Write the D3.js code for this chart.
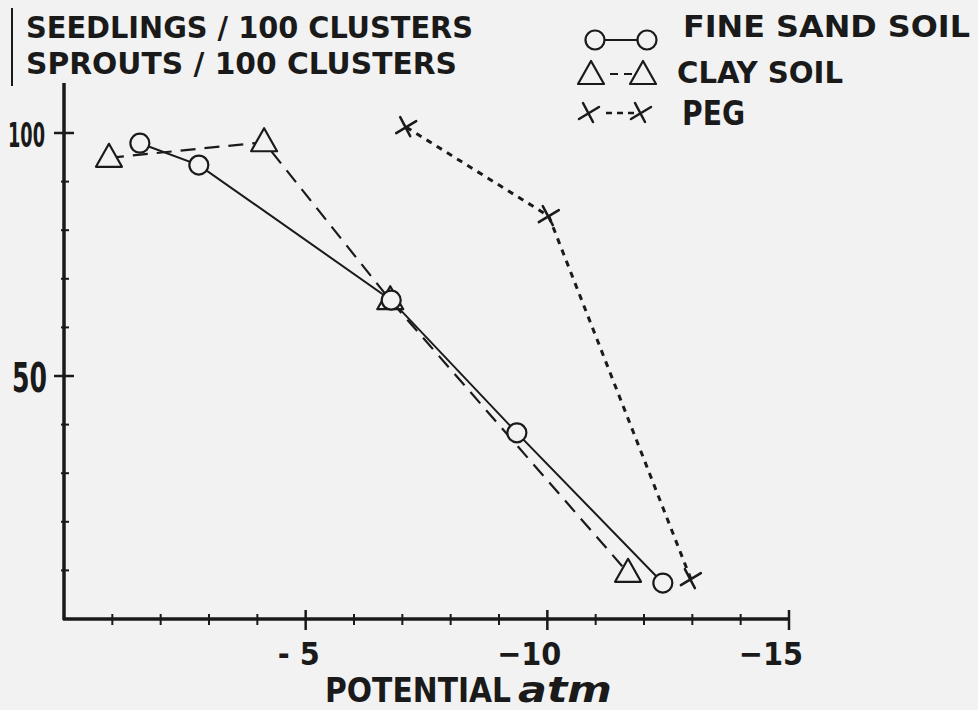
<!DOCTYPE html>
<html>
<head>
<meta charset="utf-8">
<script src="https://cdn.jsdelivr.net/npm/d3@7"></script>
<style>
  body { margin: 0; background: #f2f2f2; }
  svg { display: block; }
  text { font-family: "DejaVu Sans Condensed", "DejaVu Sans", sans-serif; font-weight: bold; fill: #1a1a1a; }
</style>
</head>
<body>
<svg></svg>
<script>
let width = 978, height = 710;

// data (x = potential in atm, y = count per 100 clusters)
let sandX = [-1.57, -2.79, -6.77, -9.37, -12.39];
let sandY = [97.9, 93.4, 65.6, 38.3, 7.4];

let clayX = [-0.93, -4.14, -6.75, -11.67];
let clayY = [94.9, 98.1, 65.6, 9.5];

let pegX = [-7.08, -10.03, -12.97];
let pegY = [101.2, 82.9, 8.2];

let xTicks = [-5, -10, -15];
let xTickLabels = ["- 5", "\u221210", "\u221215"];
let yTicks = [50, 100];
let yTickLabels = ["50", "100"];
let titleLines = ["SEEDLINGS / 100 CLUSTERS", "SPROUTS / 100 CLUSTERS"];
let legendNames = ["FINE SAND SOIL", "CLAY SOIL", "PEG"];

let ink = "#1a1a1a", paper = "#f2f2f2";

let svg = d3.select("svg")
    .attr("width", width)
    .attr("height", height);

svg.append("rect").attr("width", width).attr("height", height).attr("fill", paper);

let x = d3.scaleLinear().domain([0, -15]).range([64, 789]);
let y = d3.scaleLinear().domain([0, 100]).range([619, 133]);

// axes: minor ticks every unit / every 10, bigger ticks on the labelled values
let xAxisG = svg.append("g").attr("transform", "translate(0," + y(0) + ")");
xAxisG.append("line")
    .attr("x1", x(0) - 1).attr("x2", x(-15) + 1)
    .attr("stroke", ink).attr("stroke-width", 3.5);
xAxisG.selectAll(".minor")
    .data(d3.range(-1, -15, -1).filter(d => d % 5 != 0))
    .enter().append("line")
    .attr("x1", d => x(d)).attr("x2", d => x(d))
    .attr("y1", -5).attr("y2", 6)
    .attr("stroke", ink).attr("stroke-width", 2);
xAxisG.selectAll(".major")
    .data(xTicks)
    .enter().append("line")
    .attr("x1", d => x(d)).attr("x2", d => x(d))
    .attr("y1", -9).attr("y2", 11)
    .attr("stroke", ink).attr("stroke-width", 2.5);
xAxisG.selectAll(".lab")
    .data(xTicks)
    .enter().append("text")
    .attr("x", d => x(d) + 14)
    .attr("y", 46)
    .attr("text-anchor", "end")
    .style("font-size", "32px")
    .text((d, i) => xTickLabels[i]);

let yAxisG = svg.append("g").attr("transform", "translate(" + x(0) + ",0)");
yAxisG.append("line")
    .attr("y1", 83).attr("y2", y(0) + 1)
    .attr("stroke", ink).attr("stroke-width", 3.5);
yAxisG.selectAll(".minor")
    .data(d3.range(10, 100, 10).filter(d => d != 50))
    .enter().append("line")
    .attr("y1", d => y(d)).attr("y2", d => y(d))
    .attr("x1", -3).attr("x2", 5)
    .attr("stroke", ink).attr("stroke-width", 2);
yAxisG.selectAll(".major")
    .data(yTicks)
    .enter().append("line")
    .attr("y1", d => y(d)).attr("y2", d => y(d))
    .attr("x1", -10).attr("x2", 10)
    .attr("stroke", ink).attr("stroke-width", 2.5);
yAxisG.selectAll(".lab")
    .data(yTicks)
    .enter().append("text")
    .attr("x", (d, i) => i == 0 ? -52 : -56)
    .attr("y", (d, i) => y(d) + (i == 0 ? 16 : 14))
    .style("font-size", (d, i) => i == 0 ? "40px" : "33px")
    .attr("lengthAdjust", "spacingAndGlyphs")
    .attr("textLength", (d, i) => i == 0 ? 35 : 37)
    .text((d, i) => yTickLabels[i]);

// axis title
svg.append("text")
    .attr("x", 325).attr("y", 702)
    .style("font-size", "33px")
    .attr("lengthAdjust", "spacingAndGlyphs")
    .attr("textLength", 186)
    .text("POTENTIAL");
svg.append("text")
    .attr("x", 518).attr("y", 702)
    .style("font-size", "35px")
    .style("font-style", "italic")
    .attr("lengthAdjust", "spacingAndGlyphs")
    .attr("textLength", 94)
    .text("atm");

// y title with the bar on its left
svg.append("line")
    .attr("x1", 12).attr("x2", 12).attr("y1", 8).attr("y2", 86)
    .attr("stroke", ink).attr("stroke-width", 2);
svg.selectAll(".title")
    .data(titleLines)
    .enter().append("text")
    .attr("x", 26)
    .attr("y", (d, i) => 38 + i * 36)
    .style("font-size", "30px")
    .attr("lengthAdjust", "spacingAndGlyphs")
    .attr("textLength", (d, i) => i == 0 ? 447 : 431)
    .text(d => d);

// series
let line = d3.line().x(d => x(d[0])).y(d => y(d[1]));

let sand = sandX.map((v, i) => [v, sandY[i]]);
let clay = clayX.map((v, i) => [v, clayY[i]]);
let peg = pegX.map((v, i) => [v, pegY[i]]);

svg.append("path").datum(clay)
    .attr("d", line).attr("fill", "none")
    .attr("stroke", ink).attr("stroke-width", 2.2)
    .attr("stroke-dasharray", "15 9");
svg.append("path").datum(sand)
    .attr("d", line).attr("fill", "none")
    .attr("stroke", ink).attr("stroke-width", 2);
svg.append("path").datum(peg)
    .attr("d", line).attr("fill", "none")
    .attr("stroke", ink).attr("stroke-width", 3)
    .attr("stroke-dasharray", "6 6");

let triPath = "M0,-14 L13,9 L-13,9 Z";
let crossPath = "M-10,6 L10,-6 M-6,-10 L4,9";

function drawCircles(g, data) {
    g.selectAll("circle").data(data).enter().append("circle")
        .attr("cx", d => x(d[0])).attr("cy", d => y(d[1]))
        .attr("r", 9.5)
        .attr("fill", paper).attr("stroke", ink).attr("stroke-width", 2.2);
}
function drawTriangles(g, data) {
    g.selectAll("path").data(data).enter().append("path")
        .attr("d", triPath)
        .attr("transform", d => "translate(" + x(d[0]) + "," + y(d[1]) + ")")
        .attr("fill", paper).attr("stroke", ink).attr("stroke-width", 2.2)
        .attr("stroke-linejoin", "round");
}
function drawCrosses(g, data) {
    g.selectAll("path").data(data).enter().append("path")
        .attr("d", crossPath)
        .attr("transform", d => "translate(" + x(d[0]) + "," + y(d[1]) + ")")
        .attr("fill", "none").attr("stroke", ink).attr("stroke-width", 2.5)
        .attr("stroke-linecap", "round");
}

drawTriangles(svg.append("g"), clay);
drawCircles(svg.append("g"), sand);
drawCrosses(svg.append("g"), peg);

// legend
let legend = svg.append("g");
let lx1 = 595, lx2 = 647;
let ly = [40, 74, 113];

legend.append("line").attr("x1", lx1).attr("x2", lx2).attr("y1", ly[0]).attr("y2", ly[0])
    .attr("stroke", ink).attr("stroke-width", 2);
legend.append("line").attr("x1", lx1).attr("x2", lx2).attr("y1", ly[1]).attr("y2", ly[1])
    .attr("stroke", ink).attr("stroke-width", 2).attr("stroke-dasharray", "0 15 8 6 8 100");
legend.append("line").attr("x1", lx1 + 4).attr("x2", lx2 - 4).attr("y1", ly[2]).attr("y2", ly[2])
    .attr("stroke", ink).attr("stroke-width", 2.5).attr("stroke-dasharray", "0 7 6 5 6 5 6 100");

[lx1, lx2].forEach(cx => {
    legend.append("circle").attr("cx", cx).attr("cy", ly[0]).attr("r", 9.5)
        .attr("fill", paper).attr("stroke", ink).attr("stroke-width", 2.2);
    legend.append("path").attr("d", triPath)
        .attr("transform", "translate(" + (cx - 4) + "," + (ly[1] + 1) + ")")
        .attr("fill", "none").attr("stroke", ink).attr("stroke-width", 2.2)
        .attr("stroke-linejoin", "round");
    legend.append("path").attr("d", crossPath)
        .attr("transform", "translate(" + (cx - 6) + "," + ly[2] + ")")
        .attr("fill", "none").attr("stroke", ink).attr("stroke-width", 2.5)
        .attr("stroke-linecap", "round");
});

legend.selectAll(".name")
    .data(legendNames)
    .enter().append("text")
    .attr("x", (d, i) => [683, 677, 682][i])
    .attr("y", (d, i) => [37, 83, 125][i])
    .style("font-size", (d, i) => i == 2 ? "34px" : "30px")
    .attr("lengthAdjust", "spacingAndGlyphs")
    .attr("textLength", (d, i) => [287, 166, 63][i])
    .text(d => d);
</script>
</body>
</html>
